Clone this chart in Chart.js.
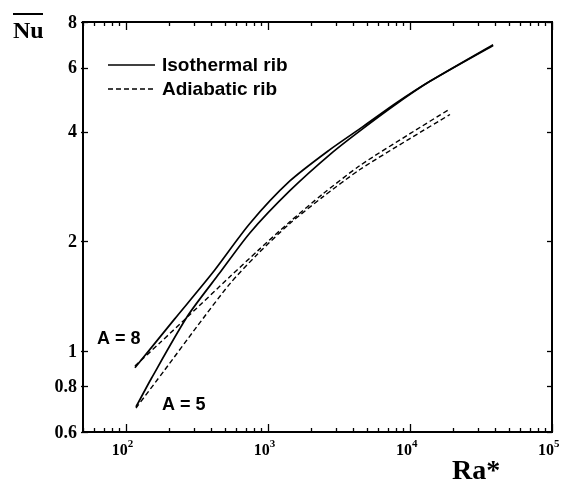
<!DOCTYPE html>
<html>
<head>
<meta charset="utf-8">
<script src="https://cdn.jsdelivr.net/npm/chart.js@4.4.0/dist/chart.umd.min.js"></script>
<style>
  html, body { margin: 0; padding: 0; background: #fff; }
</style>
</head>
<body>
<canvas id="chart" width="566" height="481"></canvas>
<script>
'use strict';

// Values (Ra* on x, mean Nu on y, both log)
const isoA8Ra = [116, 221, 403, 747, 1429, 2734, 4667, 8100, 13830, 38500];
const isoA8Nu = [0.90, 1.226, 1.63, 2.24, 2.93, 3.572, 4.13, 4.81, 5.50, 6.93];

const isoA5Ra = [118, 152, 273, 459, 747, 1429, 2823, 4667, 8100, 13830, 38500];
const isoA5Nu = [0.703, 0.844, 1.25, 1.64, 2.11, 2.756, 3.50, 4.08, 4.78, 5.50, 6.90];

const adiA8Ra = [116, 174, 282, 540, 851, 1429, 2440, 4446, 10000, 19150];
const adiA8Nu = [0.911, 1.054, 1.258, 1.60, 1.887, 2.265, 2.70, 3.23, 3.95, 4.62];

const adiA5Ra = [118, 188, 316, 540, 851, 1429, 2440, 4446, 10000, 19150];
const adiA5Nu = [0.698, 0.888, 1.166, 1.53, 1.85, 2.24, 2.65, 3.15, 3.83, 4.46];

const xMin = 50, xMax = 1e5;
const yMin = 0.6, yMax = 8;
const xMajorExp = [2, 3, 4, 5];
const yTicks = [0.6, 0.8, 1, 2, 4, 6, 8];
const yTickLabels = ['0.6', '0.8', '1', '2', '4', '6', '8'];
const legendLabels = ['Isothermal rib', 'Adiabatic rib'];

const pts = (xs, ys) => xs.map((v, i) => ({ x: v, y: ys[i] }));
const DASH = [5, 3];

function lineDs(label, xs, ys, dashed) {
    return {
        label,
        data: pts(xs, ys),
        borderColor: '#000',
        borderWidth: dashed ? 1.4 : 1.7,
        borderDash: dashed ? DASH : [],
        pointRadius: 0,
        fill: false,
        tension: 0.25
    };
}

const axesPlugin = {
    id: 'axesPlugin',
    afterDraw(chart) {
        const { ctx, chartArea: a, scales: { x, y } } = chart;
        const seg = (x1, y1, x2, y2) => {
            ctx.beginPath(); ctx.moveTo(x1, y1); ctx.lineTo(x2, y2); ctx.stroke();
        };
        ctx.save();
        ctx.strokeStyle = '#000';
        ctx.fillStyle = '#000';

        // frame
        ctx.lineWidth = 2;
        ctx.strokeRect(a.left, a.top, a.right - a.left, a.bottom - a.top);

        // x ticks, top and bottom, pointing inward
        ctx.lineWidth = 1.3;
        for (let e = 1; e <= 5; e++) {
            for (let m = 1; m <= 9; m++) {
                const v = m * Math.pow(10, e);
                if (v < xMin || v > xMax) continue;
                const px = Math.round(x.getPixelForValue(v)) + 0.5;
                const len = m === 1 ? 8 : 4;
                seg(px, a.bottom, px, a.bottom - len);
                seg(px, a.top, px, a.top + len);
            }
        }

        // y ticks, left and right
        yTicks.forEach(v => {
            const py = Math.round(y.getPixelForValue(v)) + 0.5;
            seg(a.left - 2, py, a.left + 5, py);
            seg(a.right, py, a.right - 5, py);
        });

        // y tick labels
        ctx.font = 'bold 18px "Liberation Serif", serif';
        ctx.textAlign = 'right';
        ctx.textBaseline = 'middle';
        yTicks.forEach((v, i) => {
            ctx.fillText(yTickLabels[i], a.left - 6, y.getPixelForValue(v) + 1);
        });

        // x tick labels: 10 with superscript exponent
        ctx.textBaseline = 'alphabetic';
        xMajorExp.forEach(e => {
            const px = x.getPixelForValue(Math.pow(10, e));
            ctx.font = 'bold 16px "Liberation Serif", serif';
            ctx.textAlign = 'right';
            ctx.fillText('10', px + 2, 455);
            ctx.font = 'bold 11px "Liberation Serif", serif';
            ctx.textAlign = 'left';
            ctx.fillText(String(e), px + 2, 447);
        });

        // axis titles
        ctx.font = 'bold 24px "Liberation Serif", serif';
        ctx.textAlign = 'left';
        ctx.fillText('Nu', 13, 38);
        ctx.lineWidth = 2;
        seg(13, 14, 43, 14);
        ctx.font = 'bold 28px "Liberation Serif", serif';
        ctx.fillText('Ra*', 452, 479);

        // legend
        const ds = chart.data.datasets;
        [[ds[0], 65], [ds[2], 89]].forEach(([d, ly], i) => {
            ctx.lineWidth = d.borderWidth;
            ctx.setLineDash(d.borderDash);
            seg(108, ly, 155, ly);
            ctx.setLineDash([]);
            ctx.font = 'bold 19px "Liberation Sans", sans-serif';
            ctx.textBaseline = 'middle';
            ctx.fillText(legendLabels[i], 162, ly + 1);
        });

        // curve labels
        ctx.font = 'bold 18px "Liberation Sans", sans-serif';
        ctx.fillText('A = 8', 97, 339);
        ctx.fillText('A = 5', 162, 405);
        ctx.restore();
    }
};

new Chart(document.getElementById('chart').getContext('2d'), {
    type: 'line',
    data: {
        datasets: [
            lineDs('Isothermal rib A=8', isoA8Ra, isoA8Nu, false),
            lineDs('Isothermal rib A=5', isoA5Ra, isoA5Nu, false),
            lineDs('Adiabatic rib A=8', adiA8Ra, adiA8Nu, true),
            lineDs('Adiabatic rib A=5', adiA5Ra, adiA5Nu, true)
        ]
    },
    options: {
        responsive: false,
        animation: false,
        devicePixelRatio: 1,
        layout: { padding: { left: 83, right: 14, top: 22, bottom: 49 } },
        plugins: { legend: { display: false }, tooltip: { enabled: false } },
        scales: {
            x: { type: 'logarithmic', min: xMin, max: xMax, display: false },
            y: { type: 'logarithmic', min: yMin, max: yMax, display: false }
        }
    },
    plugins: [axesPlugin]
});
</script>
</body>
</html>
